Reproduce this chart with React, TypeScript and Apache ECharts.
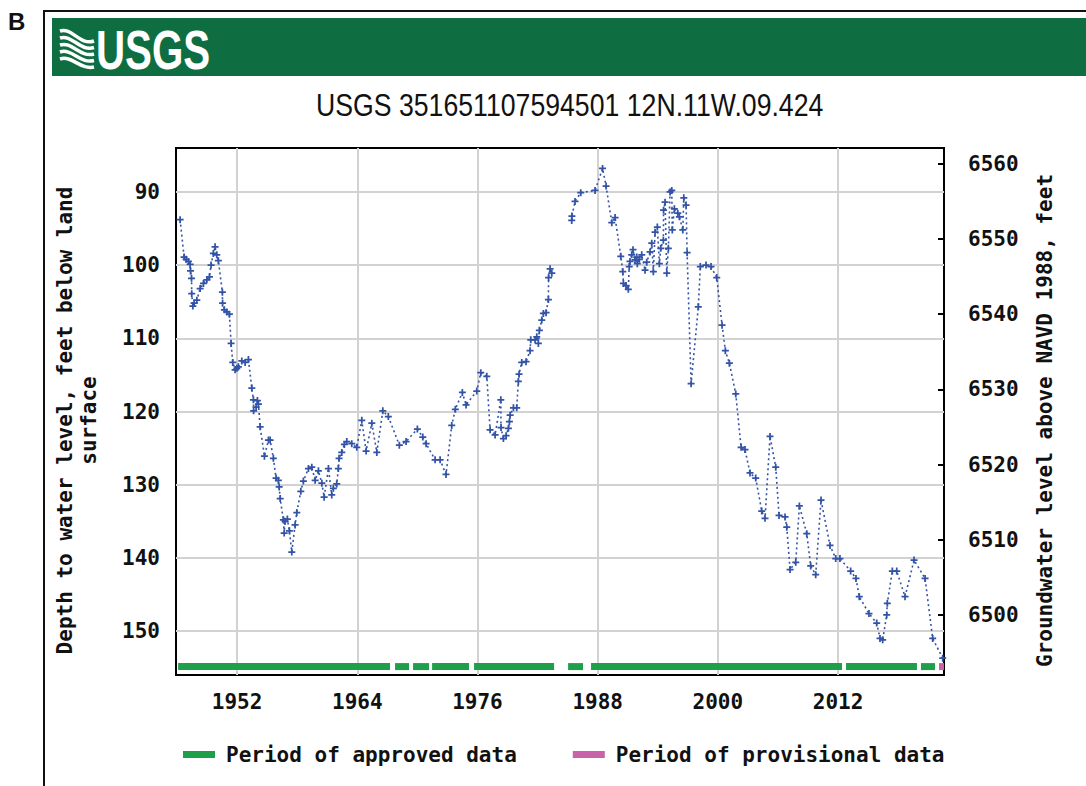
import React, { useEffect, useRef } from "react";
import * as echarts from "echarts";

const TITLE = "USGS 351651107594501 12N.11W.09.424";
const LEFT_NAME = "Depth to water level, feet below land\nsurface";
const RIGHT_NAME = "Groundwater level above NAVD 1988, feet";
const APPROVED_NAME = "Period of approved data";
const PROVISIONAL_NAME = "Period of provisional data";

const X_TICKS = [1952, 1964, 1976, 1988, 2000, 2012];
const DEPTH_TICKS = [90, 100, 110, 120, 130, 140, 150];
const ELEV_TICKS = [6500, 6510, 6520, 6530, 6540, 6550, 6560];

const X_MIN = 1945.9;
const X_MAX = 2022.58;
const DEPTH_MIN = 84;
const DEPTH_MAX = 156;
const ELEV_MIN = 6492.0;
const ELEV_MAX = 6562.1;
const BAR_DEPTH = 154.85;

const waterYears = [
  1946.31, 1946.71, 1946.91, 1947.14, 1947.31, 1947.35, 1947.45, 1947.47, 1947.58, 1947.71,
  1947.98, 1948.31, 1948.64, 1948.98, 1949.24, 1949.4, 1949.63, 1949.8, 1949.97, 1950.13,
  1950.53, 1950.55, 1950.73, 1950.97, 1951.23, 1951.4, 1951.57, 1951.8, 1951.97, 1952.13,
  1952.47, 1952.8, 1953.13, 1953.47, 1953.63, 1953.65, 1953.9, 1954.03, 1954.13, 1954.3,
  1954.73, 1955.13, 1955.3, 1955.62, 1955.89, 1956.12, 1956.2, 1956.3, 1956.62, 1956.7,
  1956.79, 1957.02, 1957.22, 1957.46, 1957.79, 1957.96, 1958.36, 1958.62, 1959.12, 1959.46,
  1959.79, 1960.12, 1960.46, 1960.69, 1961.12, 1961.45, 1961.61, 1961.95, 1962.11, 1962.18,
  1962.45, 1962.71, 1962.95, 1963.45, 1963.95, 1964.45, 1964.88, 1965.45, 1965.95, 1966.55,
  1967.1, 1968.2, 1968.87, 1970.0, 1970.54, 1970.87, 1971.77, 1972.27, 1972.86, 1973.43,
  1973.79, 1974.49, 1974.86, 1975.93, 1976.33, 1976.93, 1977.26, 1977.76, 1978.33, 1978.35,
  1978.59, 1978.86, 1979.09, 1979.19, 1979.26, 1979.59, 1979.92, 1980.08, 1980.15, 1980.42,
  1980.85, 1981.25, 1981.32, 1981.75, 1981.92, 1982.08, 1982.18, 1982.42, 1982.58, 1982.85,
  1983.08, 1983.1, 1983.25, 1983.42, 1984.4, 1985.41, 1985.43, 1985.74, 1986.31, 1987.74,
  1988.49, 1988.84, 1989.41, 1989.74, 1990.31, 1990.51, 1990.57, 1990.83, 1991.06, 1991.15,
  1991.23, 1991.4, 1991.53, 1991.73, 1991.9, 1991.96, 1992.16, 1992.4, 1992.73, 1992.9,
  1993.23, 1993.4, 1993.56, 1993.73, 1993.96, 1994.16, 1994.3, 1994.56, 1994.58, 1994.73,
  1994.9, 1995.06, 1995.23, 1995.4, 1995.45, 1995.66, 1996.0, 1996.16, 1996.5, 1996.6,
  1996.83, 1996.93, 1997.33, 1998.05, 1998.25, 1998.82, 1999.32, 1999.89, 2000.42, 2000.75,
  2001.15, 2001.79, 2002.32, 2002.71, 2003.21, 2003.78, 2004.38, 2004.71, 2005.21, 2005.78,
  2006.11, 2006.71, 2006.88, 2007.21, 2007.78, 2008.14, 2008.88, 2009.27, 2009.77, 2010.3,
  2011.2, 2011.77, 2012.19, 2013.26, 2013.79, 2014.12, 2015.09, 2015.86, 2016.19, 2016.46,
  2016.86, 2016.92, 2017.42, 2017.86, 2018.69, 2019.59, 2020.69, 2021.45, 2022.45,
];

const waterDepths: (number | null)[] = [
  93.8, 98.9, 99.2, 99.5, 99.9, 100.8, 101.8, 103.9, 105.6, 105.2,
  104.8, 103.2, 102.5, 102.0, 101.6, 100.0, 98.4, 97.5, 98.6, 99.4,
  103.7, 105.2, 106.1, 106.4, 106.7, 110.7, 113.3, 114.3, 114.1, 113.9,
  113.1, 113.3, 112.9, 116.8, 118.4, 119.9, 119.4, 118.5, 119.0, 122.1,
  126.1, 123.9, 123.9, 126.4, 129.1, 129.4, 130.3, 131.9, 134.8, 136.6,
  135.0, 134.7, 136.3, 139.2, 135.5, 133.8, 130.9, 129.5, 127.8, 127.6,
  129.4, 128.1, 129.8, 131.7, 127.8, 131.4, 130.5, 129.9, 127.8, 126.4,
  125.6, 124.5, 124.1, 124.4, 124.9, 121.2, 125.4, 121.6, 125.6, 119.9,
  120.7, 124.6, 124.1, 122.4, 123.5, 124.4, 126.6, 126.6, 128.6, 121.9,
  119.7, 117.4, 119.1, 117.2, 114.7, 115.2, 122.5, 123.2, 118.4, 122.2,
  123.7, 123.3, 122.3, 121.4, 120.5, 119.5, 119.5, 115.9, 114.9, 113.3,
  113.2, 111.7, 110.2, 110.2, 109.8, 110.7, 108.9, 107.5, 106.6, 106.5,
  104.7, 101.7, 100.5, 101.1, null, 93.9, 93.3, 91.3, 90.1, 89.8,
  86.8, 89.2, 94.2, 93.5, 98.8, 100.9, 102.5, 102.8, 103.3, 100.2,
  99.5, 98.6, 97.9, 99.3, 98.9, 99.8, 99.2, 98.6, 100.7, 99.6,
  98.2, 97.0, 100.9, 95.5, 94.8, 99.8, 97.7, 96.6, 92.5, 91.4,
  101.1, 97.7, 90.0, 89.8, 95.2, 92.3, 92.9, 93.4, 95.2, 90.8,
  91.8, 98.3, 116.2, 105.7, 100.2, 100.0, 100.2, 101.7, 108.2, 111.7,
  113.4, 117.6, 124.9, 125.2, 128.4, 129.1, 133.6, 134.6, 123.4, 127.6,
  134.2, 134.4, 135.8, 141.6, 140.6, 132.9, 136.7, 141.1, 142.3, 132.1,
  138.3, 140.1, 140.1, 141.8, 142.8, 145.3, 147.6, 148.9, 151.0, 151.2,
  147.8, 146.2, 141.8, 141.8, 145.3, 140.3, 142.8, 151.0, 153.7,
];

const approvedPeriods = [
  [1946.11, 1967.27],
  [1967.77, 1969.17],
  [1969.57, 1971.17],
  [1971.47, 1975.16],
  [1975.66, 1983.65],
  [1985.05, 1986.54],
  [1987.34, 2012.4],
  [2012.8, 2019.88],
  [2020.28, 2021.68],
];
const provisionalPeriods = [[2022.08, 2022.58]];

const BLUE = "#3353a6";
const GREEN = "#1f9f4a";
const PINK = "#c862a9";
const MONO = "'DejaVu Sans Mono', 'Liberation Mono', monospace";
const SANS = "'Liberation Sans', Arial, sans-serif";
const PLUS = "path://M3 0H5V3H8V5H5V8H3V5H0V3H3Z";

function periodSeries(name: string, periods: number[][], color: string) {
  return {
    type: "custom",
    name,
    data: periods.map((p) => [p[0], p[1], BAR_DEPTH]),
    encode: { x: [0, 1], y: 2 },
    itemStyle: { color },
    z: 3,
    renderItem: (_params: any, api: any) => {
      const s = api.coord([api.value(0), api.value(2)]);
      const e = api.coord([api.value(1), api.value(2)]);
      return {
        type: "rect",
        shape: { x: s[0], y: s[1] - 3.5, width: e[0] - s[0], height: 7 },
        style: { fill: color },
      };
    },
  };
}

export default function App() {
  const ref = useRef<HTMLDivElement>(null);
  useEffect(() => {
    if (!ref.current) return;
    const chart = echarts.init(ref.current, null, { renderer: "svg" });
    const axisLabelStyle = {
      fontFamily: MONO,
      fontWeight: "bold",
      fontSize: 21,
      color: "#111",
    };
    const waves = [0, 1, 2, 3, 4].map((i) => ({
      type: "bezierCurve",
      shape: {
        x1: 60,
        y1: 31 + i * 7,
        cpx1: 72,
        cpy1: 27 + i * 7,
        cpx2: 80,
        cpy2: 46 + i * 6,
        x2: 94,
        y2: 41 + i * 6.5,
      },
      style: { stroke: "#fff", lineWidth: 3.5, fill: null },
    }));
    const option: any = {
      animation: false,
      backgroundColor: "#ffffff",
      graphic: [
        {
          type: "text",
          x: 8,
          y: 9,
          style: {
            text: "B",
            fontFamily: SANS,
            fontWeight: "bold",
            fontSize: 24,
            fill: "#111",
          },
        },
        { type: "line", shape: { x1: 43, y1: 11, x2: 1086, y2: 11 }, style: { stroke: "#111", lineWidth: 2 } },
        { type: "line", shape: { x1: 44, y1: 10, x2: 44, y2: 786 }, style: { stroke: "#111", lineWidth: 2 } },
        { type: "rect", shape: { x: 52, y: 18, width: 1034, height: 58 }, style: { fill: "#0f6e41" } },
        ...waves,
        {
          type: "text",
          x: 96,
          y: 21,
          scaleX: 0.72,
          style: {
            text: "USGS",
            fontFamily: SANS,
            fontWeight: "bold",
            fontSize: 56,
            fill: "#fff",
          },
        },
        {
          type: "text",
          x: 316,
          y: 90,
          scaleX: 0.86,
          style: {
            text: TITLE,
            fontFamily: SANS,
            fontSize: 31,
            fill: "#111",
          },
        },
      ],
      grid: {
        left: 176,
        right: 142,
        top: 148,
        bottom: 111,
        show: true,
        borderColor: "#000",
        borderWidth: 2,
        backgroundColor: "#fff",
      },
      legend: {
        data: [APPROVED_NAME, PROVISIONAL_NAME],
        left: 178,
        top: 739,
        icon: "rect",
        itemWidth: 32,
        itemHeight: 7,
        itemGap: 56,
        textStyle: { ...axisLabelStyle, padding: [0, 0, 0, 6] },
      },
      xAxis: {
        type: "value",
        min: X_MIN,
        max: X_MAX,
        axisLine: { show: false },
        axisTick: { show: false, customValues: X_TICKS },
        axisLabel: { customValues: X_TICKS, margin: 16, ...axisLabelStyle, formatter: (v: number) => String(v) },
        splitLine: { show: true, lineStyle: { color: "#d2d2d2", width: 2 } },
      },
      yAxis: [
        {
          type: "value",
          inverse: true,
          min: DEPTH_MIN,
          max: DEPTH_MAX,
          position: "left",
          axisLine: { show: false },
          axisTick: { show: false, customValues: DEPTH_TICKS },
          axisLabel: { customValues: DEPTH_TICKS, margin: 16, ...axisLabelStyle, formatter: (v: number) => String(v) },
          splitLine: { show: true, lineStyle: { color: "#d2d2d2", width: 2 } },
          name: LEFT_NAME,
          nameLocation: "middle",
          nameRotate: 90,
          nameGap: 75,
          nameTextStyle: { ...axisLabelStyle, lineHeight: 24, align: "center", padding: [0, 18, 0, 0] },
        },
        {
          type: "value",
          min: ELEV_MIN,
          max: ELEV_MAX,
          position: "right",
          axisLine: { show: false },
          axisTick: {
            show: true,
            inside: true,
            length: 6,
            customValues: ELEV_TICKS,
            lineStyle: { color: "#000", width: 2 },
          },
          axisLabel: { customValues: ELEV_TICKS, margin: 24, ...axisLabelStyle, formatter: (v: number) => String(v) },
          splitLine: { show: false },
          name: RIGHT_NAME,
          nameLocation: "middle",
          nameRotate: 90,
          nameGap: 90,
          nameTextStyle: { ...axisLabelStyle, padding: [0, 18, 0, 0] },
        },
      ],
      series: [
        {
          type: "line",
          name: "Depth to water level",
          yAxisIndex: 0,
          data: waterYears.map((y, i) => [y, waterDepths[i] === null ? "-" : waterDepths[i]]),
          symbol: PLUS,
          symbolSize: 7,
          showAllSymbol: true,
          connectNulls: false,
          itemStyle: { color: BLUE },
          lineStyle: { color: BLUE, width: 1.6, type: [2, 3] },
          z: 4,
        },
        periodSeries(APPROVED_NAME, approvedPeriods, GREEN),
        periodSeries(PROVISIONAL_NAME, provisionalPeriods, PINK),
      ],
    };
    chart.setOption(option);
    return () => chart.dispose();
  }, []);
  return (
    <div
      ref={ref}
      style={{ position: "fixed", left: 0, top: 0, width: 1086, height: 786, background: "#fff" }}
    />
  );
}
